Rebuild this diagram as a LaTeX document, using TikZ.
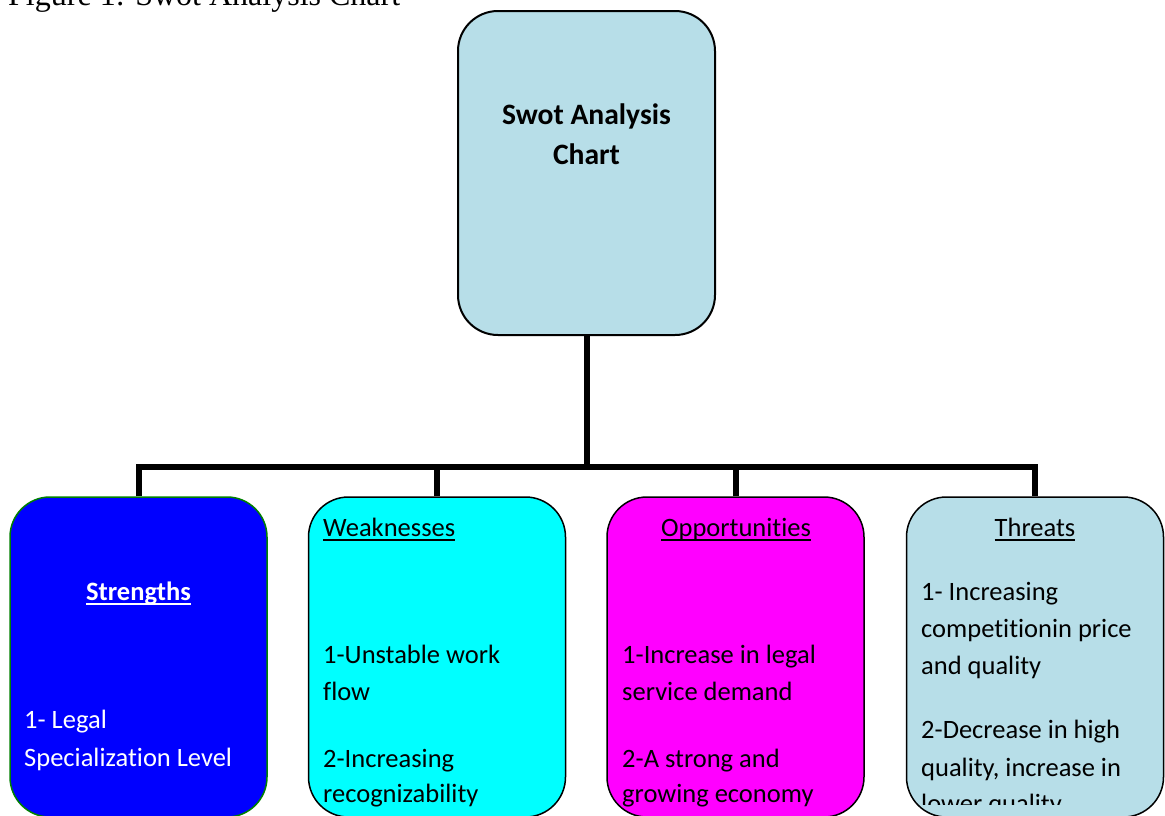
\documentclass[tikz,border=0pt]{standalone}
\usepackage{fontspec}
\setmainfont{Carlito}[Ligatures=NoCommon]
\newfontfamily\capfont{Liberation Serif}
\usetikzlibrary{positioning, calc}

\definecolor{paleaqua}{HTML}{B7DEE8}
\definecolor{pureblue}{HTML}{0000FF}
\definecolor{aquafill}{HTML}{00FFFF}
\definecolor{pinkfill}{HTML}{FF00FF}
\definecolor{leafgreen}{HTML}{008000}

\newsavebox\headbox
\newcommand\ulhead[1]{\sbox\headbox{#1}\rlap{\rule[-5pt]{\wd\headbox}{2pt}}#1}

\begin{document}
\begin{tikzpicture}[
		x=1pt, y=-1pt,
		box/.style={draw, line width=1.5pt, rounded corners=40pt, minimum width=257pt, minimum height=320pt, inner sep=0pt},
		link/.style={line width=6pt, black},
		body/.style={font=\fontsize{26.5}{37}\selectfont, anchor=base west, inner sep=0pt},
		head/.style={body, anchor=base}
		]
		\useasboundingbox (0,0) rectangle (1165,815);
		\clip (0,0) rectangle (1165,815);
		
		% === CAPTION ===
		\node[font=\capfont\fontsize{32}{38}\selectfont, anchor=base west, inner sep=0pt] (caption) at (8,5) {Figure 1: Swot Analysis Chart};
		
		% === TOP BOX ===
		\node[box, line width=2pt, fill=paleaqua, minimum height=324pt] (swot) at (586.5,173) {};
		\node[head, font=\bfseries\fontsize{29.6}{41}\selectfont] (swot1) at (586.5,124) {Swot Analysis};
		\node[head, font=\bfseries\fontsize{29.6}{41}\selectfont] (swot2) at (586.5,164) {Chart};
		
		% === SWOT BOXES ===
		\node[box, fill=pureblue, draw=leafgreen] (strengths) at (138.5,657) {};
		\node[box, fill=aquafill] (weak) at (437,657) {};
		\node[box, fill=pinkfill] (opport) at (735.5,657) {};
		\node[box, fill=paleaqua] (threats) at (1035,657) {};
		
		% === CONNECTORS ===
		\coordinate (hub) at (586.5,467);
		\draw[link] (swot.south) -- (hub);
		\draw[link] (strengths.north) |- (threats.north |- hub) -- (threats.north);
		\draw[link] (weak.north) -- (weak.north |- hub);
		\draw[link] (opport.north) -- (opport.north |- hub);
		
		% === STRENGTHS ===
		\node[head, text=white, font=\bfseries\fontsize{26.5}{37}\selectfont] (shead) at (138.5,600) {\ulhead{Strengths}};
		\node[body, text=white] (s1) at (24,728) {1- Legal};
		\node[body, text=white] (s2) at (24,766) {Specialization Level};
		
		% === WEAKNESSES ===
		\node[body] (whead) at (323,536) {\ulhead{Weaknesses}};
		\foreach \n/\y/\txt in {1/663/{1-Unstable work}, 2/700/{flow}, 3/767/{2-Increasing}, 4/802/{recognizability}} {
			\node[body] (w\n) at (323,\y) {\txt};
		}
		
		% === OPPORTUNITIES ===
		\node[head] (ohead) at (736,536) {\ulhead{Opportunities}};
		\foreach \n/\y/\txt in {1/663/{1-Increase in legal}, 2/700/{service demand}, 3/767/{2-A strong and}, 4/802/{growing economy}} {
			\node[body] (o\n) at (622,\y) {\txt};
		}
		
		% === THREATS ===
		\node[head] (thead) at (1035,536) {\ulhead{Threats}};
		\begin{scope}
			\clip (907,497) rectangle (1163,804);
			\foreach \n/\y/\txt in {1/600/{1- Increasing}, 2/637/{competitionin price}, 3/674/{and quality}, 4/738/{2-Decrease in high}, 5/776/{quality, increase in}, 6/812/{lower quality}} {
				\node[body] (t\n) at (921,\y) {\txt};
			}
		\end{scope}
		
	\end{tikzpicture}
\end{document}
